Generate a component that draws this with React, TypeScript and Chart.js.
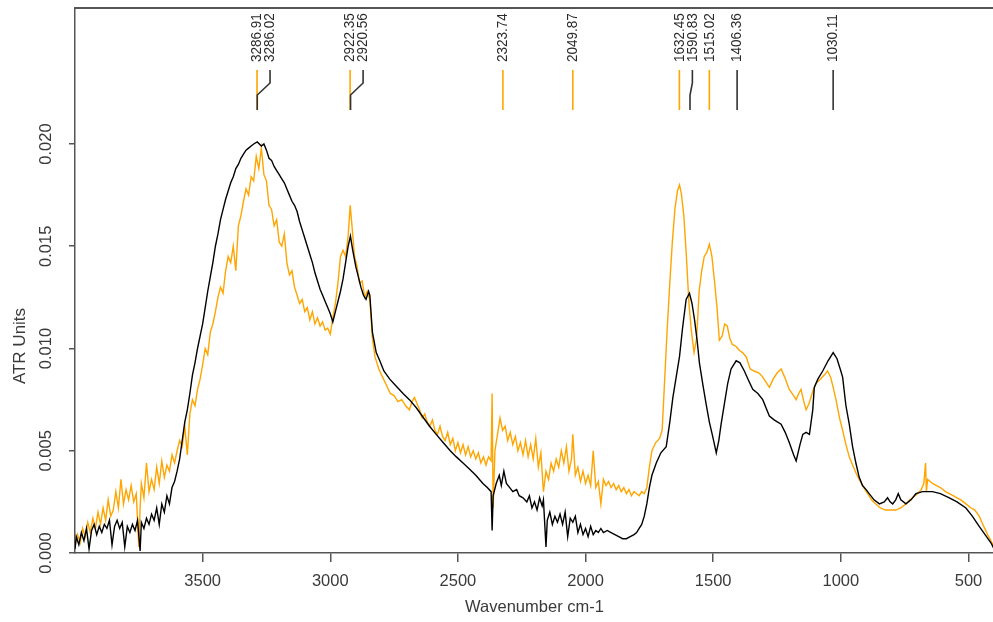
import { useEffect, useRef } from 'react';
import { Chart, registerables } from 'chart.js';

Chart.register(...registerables);

// ---------- data ----------
const orangeWavenumbers = [
  4000, 3990, 3980, 3970, 3960, 3950, 3940, 3930, 3920, 3910,
  3900, 3890, 3880, 3870, 3860, 3850, 3840, 3830, 3820, 3810,
  3800, 3790, 3780, 3770, 3760, 3750, 3745, 3740, 3730, 3720,
  3710, 3700, 3690, 3680, 3670, 3660, 3650, 3640, 3630, 3620,
  3610, 3600, 3590, 3580, 3570, 3560, 3550, 3540, 3530, 3520,
  3510, 3500, 3490, 3480, 3470, 3460, 3450, 3440, 3430, 3420,
  3410, 3400, 3390, 3380, 3370, 3360, 3350, 3340, 3330, 3320,
  3310, 3300, 3290, 3280, 3270, 3260, 3250, 3240, 3230, 3220,
  3210, 3200, 3190, 3180, 3170, 3160, 3150, 3140, 3130, 3120,
  3110, 3100, 3090, 3080, 3070, 3060, 3050, 3040, 3030, 3020,
  3010, 3000, 2990, 2980, 2970, 2960, 2950, 2940, 2930, 2922,
  2915, 2905, 2895, 2885, 2875, 2865, 2855, 2845, 2835, 2825,
  2810, 2795, 2780, 2765, 2750, 2735, 2720, 2705, 2690, 2680,
  2670, 2660, 2650, 2640, 2630, 2620, 2610, 2600, 2590, 2580,
  2570, 2560, 2550, 2540, 2530, 2520, 2510, 2500, 2490, 2480,
  2470, 2460, 2450, 2440, 2430, 2420, 2410, 2400, 2390, 2380,
  2370, 2366, 2362, 2355, 2345, 2335, 2325, 2315, 2305, 2295,
  2285, 2275, 2265, 2255, 2245, 2235, 2225, 2215, 2205, 2195,
  2185, 2175, 2165, 2155, 2145, 2135, 2125, 2115, 2105, 2095,
  2085, 2075, 2065, 2055, 2050, 2040, 2030, 2020, 2010, 2000,
  1990, 1980, 1970, 1960, 1950, 1940, 1930, 1920, 1910, 1900,
  1890, 1880, 1870, 1860, 1850, 1840, 1830, 1820, 1810, 1800,
  1790, 1780, 1770, 1760, 1750, 1740, 1725, 1710, 1700, 1690,
  1680, 1670, 1660, 1650, 1640, 1632, 1625, 1615, 1605, 1595,
  1585, 1575, 1565, 1555, 1545, 1535, 1525, 1515, 1505, 1495,
  1485, 1476, 1465, 1455, 1445, 1435, 1425, 1410, 1397, 1385,
  1371, 1355, 1340, 1320, 1306, 1290, 1280, 1265, 1250, 1234,
  1220, 1202, 1185, 1175, 1165, 1156, 1145, 1136, 1125, 1110,
  1097, 1080, 1065, 1052, 1040, 1030, 1019, 1005, 993, 980,
  967, 954, 940, 928, 910, 895, 880, 863, 845, 825,
  805, 785, 765, 745, 730, 719, 700, 685, 675, 668,
  665, 660, 650, 641, 625, 610, 590, 575, 560, 545,
  530, 510, 490, 475, 458, 440, 425, 412, 400,
];
const orangeAbsorbance = [
  0.0003, 0.0009, 0.0005, 0.0012, 0.0008, 0.0015, 0.0010, 0.0017, 0.0012, 0.0020,
  0.0014, 0.0022, 0.0016, 0.0026, 0.0018, 0.0021, 0.0030, 0.0022, 0.0036, 0.0024,
  0.0031, 0.0026, 0.0033, 0.0025, 0.0029, 0.0003, 0.0022, 0.0034, 0.0027, 0.0044,
  0.0030, 0.0036, 0.0031, 0.0042, 0.0034, 0.0045, 0.0037, 0.0043, 0.0040, 0.0048,
  0.0044, 0.0050, 0.0055, 0.0052, 0.0062, 0.0048, 0.0068, 0.0075, 0.0072, 0.0080,
  0.0085, 0.0092, 0.0100, 0.0097, 0.0108, 0.0112, 0.0118, 0.0125, 0.0130, 0.0127,
  0.0138, 0.0145, 0.0142, 0.0150, 0.0138, 0.0160, 0.0165, 0.0172, 0.0178, 0.0175,
  0.0184, 0.0182, 0.0194, 0.0188, 0.0198, 0.0185, 0.0182, 0.0170, 0.0168, 0.0160,
  0.0163, 0.0152, 0.0150, 0.0156, 0.0142, 0.0136, 0.0138, 0.0130, 0.0126, 0.0122,
  0.0124, 0.0118, 0.0120, 0.0114, 0.0118, 0.0112, 0.0115, 0.0111, 0.0113, 0.0109,
  0.0110, 0.0107, 0.0115, 0.0122, 0.0132, 0.0145, 0.0148, 0.0145, 0.0155, 0.0170,
  0.0160, 0.0145, 0.0140, 0.0132, 0.0133, 0.0125, 0.0128, 0.0124, 0.0105, 0.0096,
  0.0090, 0.0086, 0.0082, 0.0078, 0.0077, 0.0074, 0.0075, 0.0072, 0.0070, 0.0074,
  0.0076, 0.0073, 0.0070, 0.0066, 0.0068, 0.0064, 0.0062, 0.0065, 0.0060, 0.0058,
  0.0062, 0.0057, 0.0055, 0.0059, 0.0053, 0.0056, 0.0050, 0.0054, 0.0049, 0.0053,
  0.0048, 0.0052, 0.0047, 0.0050, 0.0046, 0.0049, 0.0044, 0.0047, 0.0043, 0.0047,
  0.0045, 0.0078, 0.0022, 0.0050, 0.0058, 0.0066, 0.0060, 0.0062, 0.0055, 0.0059,
  0.0053, 0.0057, 0.0050, 0.0054, 0.0048, 0.0055, 0.0047, 0.0053, 0.0046, 0.0056,
  0.0042, 0.0049, 0.0030, 0.0040, 0.0036, 0.0044, 0.0040, 0.0046, 0.0042, 0.0050,
  0.0044, 0.0052, 0.0040, 0.0046, 0.0058, 0.0038, 0.0042, 0.0035, 0.0040, 0.0034,
  0.0038, 0.0033, 0.0050, 0.0032, 0.0035, 0.0024, 0.0036, 0.0033, 0.0035, 0.0032,
  0.0034, 0.0031, 0.0033, 0.0030, 0.0032, 0.0029, 0.0031, 0.0028, 0.0030, 0.0029,
  0.0028, 0.0030, 0.0029, 0.0032, 0.0042, 0.0050, 0.0054, 0.0056, 0.0060, 0.0085,
  0.0110, 0.0132, 0.0152, 0.0168, 0.0177, 0.0180, 0.0176, 0.0165, 0.0145, 0.0122,
  0.0108, 0.0098, 0.0105, 0.0128, 0.0138, 0.0145, 0.0147, 0.0151, 0.0145, 0.0133,
  0.0120, 0.0104, 0.0106, 0.0112, 0.0111, 0.0105, 0.0102, 0.0101, 0.0099, 0.0098,
  0.0096, 0.0090, 0.0089, 0.0088, 0.0086, 0.0083, 0.0081, 0.0085, 0.0088, 0.0090,
  0.0086, 0.0080, 0.0077, 0.0075, 0.0078, 0.0080, 0.0074, 0.0070, 0.0073, 0.0079,
  0.0083, 0.0085, 0.0087, 0.0089, 0.0086, 0.0081, 0.0075, 0.0066, 0.0060, 0.0053,
  0.0047, 0.0043, 0.0039, 0.0036, 0.0032, 0.0029, 0.0026, 0.0024, 0.0022, 0.0021,
  0.0021, 0.0021, 0.0022, 0.0024, 0.0026, 0.0027, 0.0029, 0.0031, 0.0034, 0.0044,
  0.0030, 0.0036, 0.0035, 0.0034, 0.0033, 0.0032, 0.0030, 0.0029, 0.0028, 0.0027,
  0.0026, 0.0024, 0.0022, 0.0021, 0.0018, 0.0013, 0.0009, 0.0006, 0.0003,
];

const blackWavenumbers = [
  4000, 3995, 3985, 3975, 3965, 3955, 3945, 3935, 3925, 3915,
  3905, 3895, 3885, 3875, 3865, 3855, 3845, 3835, 3825, 3815,
  3805, 3795, 3785, 3775, 3765, 3755, 3745, 3740, 3730, 3720,
  3710, 3700, 3690, 3680, 3670, 3660, 3650, 3640, 3630, 3620,
  3610, 3600, 3590, 3580, 3570, 3560, 3550, 3540, 3530, 3520,
  3510, 3500, 3490, 3480, 3470, 3460, 3450, 3440, 3430, 3420,
  3410, 3400, 3390, 3380, 3370, 3360, 3350, 3340, 3330, 3320,
  3310, 3300, 3286, 3270, 3260, 3250, 3240, 3230, 3220, 3210,
  3200, 3190, 3180, 3170, 3160, 3150, 3140, 3130, 3120, 3110,
  3100, 3090, 3080, 3070, 3060, 3050, 3040, 3030, 3020, 3010,
  3000, 2990, 2980, 2970, 2960, 2950, 2940, 2930, 2921, 2912,
  2900, 2890, 2880, 2870, 2860, 2850, 2845, 2835, 2820, 2806,
  2790, 2767, 2745, 2715, 2690, 2663, 2640, 2611, 2585, 2558,
  2530, 2506, 2480, 2454, 2430, 2402, 2385, 2370, 2366, 2362,
  2350, 2338, 2330, 2320, 2310, 2297, 2285, 2270, 2260, 2245,
  2230, 2220, 2210, 2200, 2190, 2180, 2170, 2165, 2155, 2150,
  2140, 2130, 2120, 2110, 2100, 2090, 2080, 2070, 2060, 2050,
  2040, 2030, 2020, 2010, 2000, 1990, 1980, 1970, 1960, 1950,
  1940, 1930, 1915, 1900, 1885, 1870, 1855, 1840, 1825, 1810,
  1800, 1790, 1780, 1770, 1760, 1750, 1740, 1723, 1705, 1684,
  1670, 1658, 1645, 1632, 1620, 1606, 1593, 1583, 1573, 1563,
  1554, 1540, 1528, 1515, 1502, 1488, 1478, 1469, 1456, 1443,
  1430, 1410, 1395, 1378, 1360, 1345, 1325, 1306, 1290, 1280,
  1260, 1234, 1218, 1202, 1185, 1175, 1160, 1149, 1136, 1123,
  1110, 1104, 1090, 1071, 1050, 1030, 1015, 1000, 993, 980,
  967, 954, 941, 928, 915, 901, 889, 870, 849, 830,
  817, 807, 797, 785, 775, 765, 745, 725, 706, 680,
  660, 641, 610, 575, 545, 510, 485, 458, 435, 412,
  400,
];
const blackAbsorbance = [
  0.0002, 0.0008, 0.0004, 0.0010, 0.0006, 0.0012, 0.0002, 0.0011, 0.0014, 0.0009,
  0.0013, 0.0010, 0.0014, 0.0012, 0.0016, 0.0004, 0.0013, 0.0016, 0.0012, 0.0015,
  0.0003, 0.0013, 0.0010, 0.0014, 0.0011, 0.0016, 0.0001, 0.0015, 0.0012, 0.0017,
  0.0014, 0.0019, 0.0016, 0.0022, 0.0014, 0.0024, 0.0020, 0.0028, 0.0024, 0.0032,
  0.0035, 0.0040, 0.0046, 0.0055, 0.0064, 0.0070, 0.0078, 0.0087, 0.0093, 0.0100,
  0.0106, 0.0112, 0.0120, 0.0128, 0.0135, 0.0142, 0.0150, 0.0156, 0.0163, 0.0168,
  0.0173, 0.0177, 0.0181, 0.0184, 0.0188, 0.0190, 0.0193, 0.0195, 0.0197, 0.0198,
  0.0199, 0.0200, 0.0201, 0.0199, 0.0200, 0.0197, 0.0193, 0.0192, 0.0189, 0.0187,
  0.0185, 0.0183, 0.0181, 0.0178, 0.0175, 0.0172, 0.0170, 0.0167, 0.0162, 0.0158,
  0.0154, 0.0150, 0.0146, 0.0142, 0.0137, 0.0133, 0.0129, 0.0126, 0.0123, 0.0120,
  0.0117, 0.0113, 0.0118, 0.0123, 0.0128, 0.0134, 0.0142, 0.0150, 0.0155, 0.0148,
  0.0140, 0.0135, 0.0130, 0.0126, 0.0124, 0.0128, 0.0126, 0.0108, 0.0098, 0.0094,
  0.0089, 0.0085, 0.0082, 0.0078, 0.0075, 0.0071, 0.0067, 0.0062, 0.0058, 0.0054,
  0.0050, 0.0047, 0.0044, 0.0041, 0.0038, 0.0034, 0.0032, 0.0030, 0.0011, 0.0028,
  0.0034, 0.0038, 0.0033, 0.0040, 0.0034, 0.0032, 0.0030, 0.0031, 0.0028, 0.0027,
  0.0025, 0.0028, 0.0022, 0.0025, 0.0021, 0.0027, 0.0023, 0.0026, 0.0003, 0.0016,
  0.0020, 0.0014, 0.0018, 0.0015, 0.0019, 0.0014, 0.0020, 0.0008, 0.0017, 0.0015,
  0.0018, 0.0010, 0.0014, 0.0009, 0.0012, 0.0008, 0.0013, 0.0009, 0.0011, 0.0010,
  0.0012, 0.0010, 0.0011, 0.0010, 0.0009, 0.0008, 0.0007, 0.0007, 0.0008, 0.0009,
  0.0010, 0.0012, 0.0014, 0.0018, 0.0024, 0.0032, 0.0038, 0.0044, 0.0049, 0.0052,
  0.0064, 0.0076, 0.0086, 0.0096, 0.0110, 0.0124, 0.0127, 0.0122, 0.0114, 0.0104,
  0.0093, 0.0082, 0.0073, 0.0064, 0.0057, 0.0049, 0.0055, 0.0063, 0.0073, 0.0083,
  0.0090, 0.0094, 0.0093, 0.0089, 0.0084, 0.0080, 0.0078, 0.0075, 0.0070, 0.0067,
  0.0065, 0.0063, 0.0059, 0.0054, 0.0048, 0.0045, 0.0053, 0.0058, 0.0059, 0.0058,
  0.0070, 0.0081, 0.0085, 0.0089, 0.0094, 0.0098, 0.0095, 0.0089, 0.0086, 0.0072,
  0.0063, 0.0052, 0.0044, 0.0037, 0.0033, 0.0031, 0.0029, 0.0026, 0.0024, 0.0025,
  0.0027, 0.0025, 0.0024, 0.0026, 0.0029, 0.0026, 0.0024, 0.0026, 0.0029, 0.0030,
  0.0030, 0.0030, 0.0029, 0.0027, 0.0025, 0.0022, 0.0018, 0.0013, 0.0009, 0.0005,
  0.0002,
];

const xTickValues = [3500, 3000, 2500, 2000, 1500, 1000, 500];
const yTickValues = [0, 0.005, 0.01, 0.015, 0.02];

const peakWavenumbers = [3286.91, 3286.02, 2922.35, 2920.56, 2323.74, 2049.87, 1632.45, 1590.83, 1515.02, 1406.36, 1030.11];
const peakSeries = ['orange', 'black', 'orange', 'black', 'orange', 'orange', 'orange', 'black', 'orange', 'black', 'black'];

// ---------- styles ----------
const ORANGE = '#FFA500';
const BLACK = '#000000';
const AXIS = '#555555';
const TEXT = '#3a3a3a';
const FONT = '"Liberation Sans", Arial, Helvetica, sans-serif';

const decorPlugin = {
  id: 'rDecor',
  afterDraw(chart: any) {
    const ctx = chart.ctx as CanvasRenderingContext2D;
    const { left, right, top } = chart.chartArea;
    const ys = chart.scales.y;
    const xs = chart.scales.x;
    ctx.save();

    // top frame line
    ctx.strokeStyle = AXIS;
    ctx.lineWidth = 2;
    ctx.beginPath();
    ctx.moveTo(left, top);
    ctx.lineTo(right, top);
    ctx.stroke();

    // y tick labels (rotated, R style)
    ctx.fillStyle = TEXT;
    ctx.font = `16.5px ${FONT}`;
    ctx.textAlign = 'center';
    ctx.textBaseline = 'middle';
    for (const t of ys.ticks) {
      const py = ys.getPixelForValue(t.value);
      ctx.save();
      ctx.translate(left - 28.5, py);
      ctx.rotate(-Math.PI / 2);
      ctx.fillText(Number(t.value).toFixed(3), 0, 0);
      ctx.restore();
    }

    // y axis title
    ctx.save();
    ctx.translate(left - 55, 346);
    ctx.rotate(-Math.PI / 2);
    ctx.font = `17px ${FONT}`;
    ctx.fillText('ATR Units', 0, 0);
    ctx.restore();

    // peak annotations
    const items = peakWavenumbers
      .map((wn, i) => ({ px: xs.getPixelForValue(wn), label: wn.toFixed(2), series: peakSeries[i] }))
      .sort((a, b) => a.px - b.px);
    let prev = -Infinity;
    const placed = items.map((it) => {
      const lx = Math.max(it.px, prev + 13);
      prev = lx;
      return { ...it, lx };
    });
    const y0 = top + 62;
    const y1 = top + 75;
    const y2 = top + 87;
    const y3 = top + 102;
    ctx.lineWidth = 1.6;
    for (const s of ['orange', 'black']) {
      for (const p of placed) {
        if (p.series !== s) continue;
        ctx.strokeStyle = s === 'orange' ? ORANGE : '#333333';
        ctx.beginPath();
        ctx.moveTo(p.lx, y0);
        if (Math.abs(p.lx - p.px) > 0.5) {
          ctx.lineTo(p.lx, y1);
          ctx.lineTo(p.px, y2);
        }
        ctx.lineTo(p.px, y3);
        ctx.stroke();
      }
    }
    ctx.fillStyle = '#2a2a2a';
    ctx.font = `15px ${FONT}`;
    ctx.textAlign = 'left';
    ctx.textBaseline = 'middle';
    for (const p of placed) {
      ctx.save();
      ctx.translate(p.lx, top + 54);
      ctx.rotate(-Math.PI / 2);
      ctx.scale(0.9, 1);
      ctx.fillText(p.label, 0, 0);
      ctx.restore();
    }
    ctx.restore();
  },
};

export default function App() {
  const ref = useRef<HTMLCanvasElement | null>(null);

  useEffect(() => {
    if (!ref.current) return;
    const chart = new Chart(ref.current, {
      type: 'line',
      data: {
        datasets: [
          {
            label: 'black',
            data: blackWavenumbers.map((x, i) => ({ x, y: blackAbsorbance[i] })),
            borderColor: BLACK,
            borderWidth: 1.4,
            pointRadius: 0,
            tension: 0,
          },
          {
            label: 'orange',
            data: orangeWavenumbers.map((x, i) => ({ x, y: orangeAbsorbance[i] })),
            borderColor: ORANGE,
            borderWidth: 1.4,
            pointRadius: 0,
            tension: 0,
          },
        ],
      },
      options: {
        animation: false,
        responsive: false,
        devicePixelRatio: 1,
        layout: { padding: { left: 0, top: 8, right: 6, bottom: 0 } },
        plugins: { legend: { display: false }, tooltip: { enabled: false }, title: { display: false } },
        scales: {
          x: {
            type: 'linear',
            reverse: true,
            min: 400,
            max: 4000,
            afterBuildTicks: (scale: any) => {
              scale.ticks = xTickValues.map((v) => ({ value: v }));
            },
            afterFit: (scale: any) => {
              scale.height = 69;
            },
            ticks: {
              autoSkip: false,
              maxRotation: 0,
              minRotation: 0,
              padding: 10,
              color: TEXT,
              font: { family: FONT, size: 16.5 },
              callback: (v: any) => String(v),
            },
            grid: { drawOnChartArea: false, drawTicks: true, tickLength: 9, color: AXIS, lineWidth: 1.5 },
            border: { display: true, color: AXIS, width: 1.5 },
            title: {
              display: true,
              text: 'Wavenumber cm-1',
              color: TEXT,
              font: { family: FONT, size: 16.5 },
              padding: { top: 0, bottom: 5 },
            },
          },
          y: {
            type: 'linear',
            min: 0,
            max: 0.02665,
            afterBuildTicks: (scale: any) => {
              scale.ticks = yTickValues.map((v) => ({ value: v }));
            },
            afterFit: (scale: any) => {
              scale.width = 75;
            },
            ticks: { display: false },
            grid: { drawOnChartArea: false, drawTicks: true, tickLength: 6, color: AXIS, lineWidth: 1.5 },
            border: { display: true, color: AXIS, width: 1.5 },
          },
        },
      },
      plugins: [decorPlugin],
    });
    return () => chart.destroy();
  }, []);

  return (
    <div style={{ position: 'absolute', left: 0, top: 0, width: 993, height: 622, overflow: 'hidden', background: '#ffffff' }}>
      <canvas ref={ref} width={1000} height={622} style={{ display: 'block', width: 1000, height: 622 }} />
    </div>
  );
}
